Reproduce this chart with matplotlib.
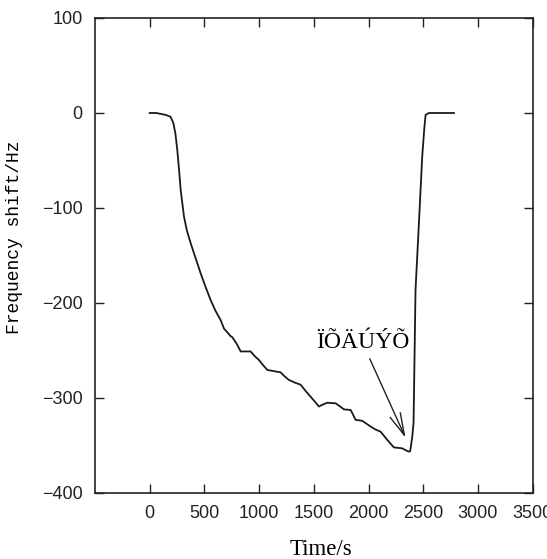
import matplotlib
matplotlib.use("Agg")
import matplotlib.pyplot as plt

time_s = [0, 60, 146, 190, 216, 235, 252, 268, 283, 300, 313, 340, 374, 420, 466, 510, 557, 600, 648, 679,
          740, 755, 800, 831, 922, 960, 998, 1040, 1075, 1196, 1230, 1272, 1330, 1379, 1420, 1470, 1510, 1546,
          1580, 1622, 1699, 1740, 1775, 1836, 1860, 1881, 1942, 1980, 2018, 2060, 2110, 2170, 2231, 2307,
          2340, 2368, 2380, 2399, 2411, 2429, 2460, 2490, 2510, 2521, 2551, 2780]
shift_hz = [0, 0, -2, -4, -10.5, -22, -39, -60, -81, -97, -109, -124, -137, -153, -169, -183, -197, -208,
            -218, -227, -235, -236, -244, -251, -251, -256, -260, -266, -270.5, -273, -277, -281, -284,
            -286, -292, -298.6, -304, -309, -307, -305, -305.6, -309, -312, -312.6, -318, -323, -324,
            -327, -330, -333, -335.5, -344, -352, -353, -355, -356.5, -356, -341, -326, -186, -116, -46,
            -15, -2, 0, 0]

x_ticks = [0, 500, 1000, 1500, 2000, 2500, 3000, 3500]
y_ticks = [-400, -300, -200, -100, 0, 100]
annot_text = "ÏÕÄÚÝÕ"

fig = plt.figure(figsize=(5.47, 5.59), dpi=100)
ax = fig.add_axes([0.1737, 0.1181, 0.8002, 0.8497])
ax.plot(time_s, shift_hz, color="#1a1a1a", lw=1.3)
ax.set_xlim(-500, 3500)
ax.set_ylim(-400, 100)
ax.set_xticks(x_ticks)
ax.set_yticks(y_ticks)
ax.set_yticklabels([str(v).replace("-", "\u2212") for v in y_ticks])
ax.tick_params(direction="in", length=6.5, width=1.0, top=True, right=True,
               labelsize=13, pad=9, colors="#222222")
for lab in ax.get_xticklabels() + ax.get_yticklabels():
    lab.set_fontfamily("Liberation Sans")
for sp in ax.spines.values():
    sp.set_linewidth(1.2)
    sp.set_color("#222222")

ax.set_xlabel("Time/s", fontfamily="Liberation Serif", fontsize=16.5)
ax.xaxis.set_label_coords(0.516, -0.097)
ax.set_ylabel("Frequency shift/Hz", fontfamily="Liberation Mono", fontsize=13)
ax.yaxis.set_label_coords(-0.165, 0.538)

ax.annotate(annot_text, xy=(2338, -342), xytext=(1945, -242),
            fontsize=17, fontfamily="Liberation Serif", ha="center", va="center",
            arrowprops=dict(arrowstyle="->, head_length=0.8, head_width=0.2", color="#222222",
                            lw=1.0, mutation_scale=20, shrinkA=2, shrinkB=0))

fig.savefig("out.png", dpi=100)
